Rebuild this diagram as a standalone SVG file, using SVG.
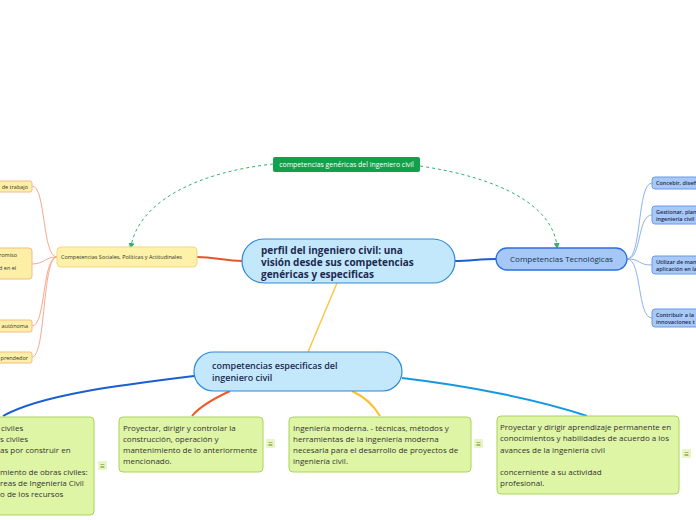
<svg xmlns="http://www.w3.org/2000/svg" width="696" height="520" viewBox="0 0 696 520">
<defs>
<marker id="ga" viewBox="0 0 8 8" refX="4" refY="4" markerWidth="6" markerHeight="6" orient="auto"><path d="M0,0 L8,4 L0,8 z" fill="#2fb36a"/></marker>
<style>
text{font-family:"Open Sans","Noto Sans","Liberation Sans",sans-serif}
.main{fill:#c4e8fb;stroke:#2f8ad4;stroke-width:1.2}
.mt{font-size:10px;font-weight:bold;fill:#1c2a52}
.st{font-size:9px;font-weight:600;fill:#1c2a52}
.soc{fill:#fdf2a7;stroke:#f3d77e;stroke-width:1}
.lc{fill:#fdf0a6;stroke:#f6b98c;stroke-width:1}
.tec{fill:#a6c8f7;stroke:#2a6fe0;stroke-width:1.3}
.rc{fill:#a8c8f6;stroke:#6b9ae8;stroke-width:1}
.gb{fill:#dff5a6;stroke:#a9d45b;stroke-width:1}
.gt{font-size:8px;fill:#333}
.sm{font-size:5.5px;fill:#333}
.rt{font-size:5.5px;fill:#1c2a52;font-weight:600}
.note{fill:#e7f6c2}
.nt{font-size:8px;fill:#6a8a2a}
.lconn{fill:none;stroke:#f8a88c;stroke-width:1}
.rconn{fill:none;stroke:#8db2ee;stroke-width:1}
.dash{fill:none;stroke:#2fb36a;stroke-width:1;stroke-dasharray:3,3}
</style>
</defs>
<rect width="696" height="520" fill="#ffffff"/>
<g id="connectors">
<path class="dash" d="M273,164 C200,172 140,200 131,246" marker-end="url(#ga)"/>
<path class="dash" d="M420,166 C500,178 552,205 557,246" marker-end="url(#ga)"/>
<path d="M197,257 C215,257 225,261 242,261" fill="none" stroke="#e8542a" stroke-width="2"/>
<path d="M455,261 C470,261 480,259 496,259" fill="none" stroke="#1a5fd0" stroke-width="2"/>
<path d="M337,283 L308,352" fill="none" stroke="#fdc74a" stroke-width="1.5"/>
<path class="lconn" d="M57,257 C42,257 46,186 32,186"/>
<path class="lconn" d="M57,257 C45,257 44,264 32,264"/>
<path class="lconn" d="M57,257 C42,257 46,326 32,326"/>
<path class="lconn" d="M57,257 C42,257 46,357 32,357"/>
<path class="rconn" d="M627,259 C642,259 637,183 652,183"/>
<path class="rconn" d="M627,259 C642,259 637,215 652,215"/>
<path class="rconn" d="M627,259 C642,259 637,265 652,265"/>
<path class="rconn" d="M627,259 C642,259 637,318 652,318"/>
<path d="M194,376 C120,385 40,395 3,416" fill="none" stroke="#1a5fd0" stroke-width="2"/>
<path d="M230,391 C215,398 200,406 192,416" fill="none" stroke="#f05a28" stroke-width="2"/>
<path d="M352,391 C365,397 374,406 380,416" fill="none" stroke="#fdbf2d" stroke-width="2"/>
<path d="M402,378 C470,386 540,400 587,416" fill="none" stroke="#1598e3" stroke-width="2"/>
</g>
<g id="generic-label">
<rect x="273" y="157" width="147" height="15" rx="2" fill="#12a14b"/>
<text x="346.5" y="167" font-size="6.9" fill="#ffffff" text-anchor="middle">competencias genéricas del ingeniero civil</text>
</g>
<g id="central">
<rect class="main" x="242" y="239" width="213" height="44" rx="22"/>
<text class="mt" x="261" y="253.5">perfil del ingeniero civil: una</text>
<text class="mt" x="261" y="265.5">visión desde sus competencias</text>
<text class="mt" x="261" y="277.5">genéricas y especificas</text>
</g>
<g id="sociales">
<rect class="soc" x="57" y="247" width="140" height="20" rx="4"/>
<text class="sm" x="61" y="259">Competencias Sociales, Políticas y Actitudinales</text>
</g>
<g id="soc-1">
<rect class="lc" x="-40" y="181" width="72" height="11" rx="2"/>
<text class="sm" x="28" y="188.5" text-anchor="end">de trabajo</text>
</g>
<g id="soc-2">
<rect class="lc" x="-40" y="248" width="72" height="31" rx="3"/>
<text class="sm" x="-1" y="257">romiso</text>
<text class="sm" x="-1" y="270">d en el</text>
</g>
<g id="soc-3">
<rect class="lc" x="-40" y="320" width="72" height="12" rx="2"/>
<text class="sm" x="28" y="328" text-anchor="end">autónoma</text>
</g>
<g id="soc-4">
<rect class="lc" x="-40" y="352" width="72" height="11" rx="2"/>
<text class="sm" x="28" y="359.5" text-anchor="end">prendedor</text>
</g>
<g id="tecnologicas">
<rect class="tec" x="496" y="248" width="131" height="22" rx="11"/>
<text x="561.5" y="262" font-size="8" fill="#16344f" text-anchor="middle">Competencias Tecnológicas</text>
</g>
<g id="tec-1">
<rect class="rc" x="652" y="177" width="80" height="12" rx="3"/>
<text class="rt" x="656" y="185">Concebir, diseñar</text>
</g>
<g id="tec-2">
<rect class="rc" x="652" y="206" width="80" height="18" rx="3"/>
<text class="rt" x="656" y="213.5">Gestionar, planificar</text>
<text class="rt" x="656" y="220.5">ingeniería civil</text>
</g>
<g id="tec-3">
<rect class="rc" x="652" y="256" width="80" height="18" rx="3"/>
<text class="rt" x="656" y="263.5">Utilizar de manera</text>
<text class="rt" x="656" y="270.5">aplicación en la</text>
</g>
<g id="tec-4">
<rect class="rc" x="652" y="309" width="80" height="18" rx="3"/>
<text class="rt" x="656" y="316.5">Contribuir a la</text>
<text class="rt" x="656" y="323.5">innovaciones t</text>
</g>
<g id="especificas">
<rect class="main" x="194" y="352" width="208" height="39" rx="19.5"/>
<text class="st" x="212" y="369">competencias especificas del</text>
<text class="st" x="212" y="381">ingeniero civil</text>
</g>
<g id="esp-1">
<rect class="gb" x="-40" y="417" width="134" height="98" rx="4"/>
<text class="gt" x="1" y="431">civiles</text>
<text class="gt" x="0" y="442">s civiles</text>
<text class="gt" x="0" y="453">as por construir en</text>
<text class="gt" x="0" y="475">miento de obras civiles:</text>
<text class="gt" x="0" y="486">reas de Ingeniería Civil</text>
<text class="gt" x="0" y="497">o de los recursos</text>
<rect class="note" x="98" y="461" width="9" height="9" rx="1"/>
<text class="nt" x="102.5" y="468.5" text-anchor="middle">≡</text>
</g>
<g id="esp-2">
<rect class="gb" x="119" y="417" width="144" height="55" rx="4"/>
<text class="gt" x="123" y="431">Proyectar, dirigir y controlar la</text>
<text class="gt" x="123" y="442">construcción, operación y</text>
<text class="gt" x="123" y="453">mantenimiento de lo anteriormente</text>
<text class="gt" x="123" y="464">mencionado.</text>
<rect class="note" x="266" y="439" width="9" height="9" rx="1"/>
<text class="nt" x="270.5" y="446.5" text-anchor="middle">≡</text>
</g>
<g id="esp-3">
<rect class="gb" x="289" y="417" width="182" height="55" rx="4"/>
<text class="gt" x="293" y="431">Ingeniería moderna. -  técnicas, métodos y</text>
<text class="gt" x="293" y="442">herramientas de la ingeniería moderna</text>
<text class="gt" x="293" y="453">necesaria para el desarrollo de proyectos de</text>
<text class="gt" x="293" y="464">ingeniería civil.</text>
<rect class="note" x="474" y="439" width="9" height="9" rx="1"/>
<text class="nt" x="478.5" y="446.5" text-anchor="middle">≡</text>
</g>
<g id="esp-4">
<rect class="gb" x="497" y="416" width="182" height="78" rx="4"/>
<text class="gt" x="500" y="430">Proyectar y dirigir aprendizaje permanente en</text>
<text class="gt" x="500" y="441">conocimientos y habilidades de acuerdo a los</text>
<text class="gt" x="500" y="453">avances de la ingeniería civil</text>
<text class="gt" x="500" y="475">concerniente a su actividad</text>
<text class="gt" x="500" y="486">profesional.</text>
<rect class="note" x="682" y="449" width="9" height="9" rx="1"/>
<text class="nt" x="686.5" y="456.5" text-anchor="middle">≡</text>
</g>
</svg>
